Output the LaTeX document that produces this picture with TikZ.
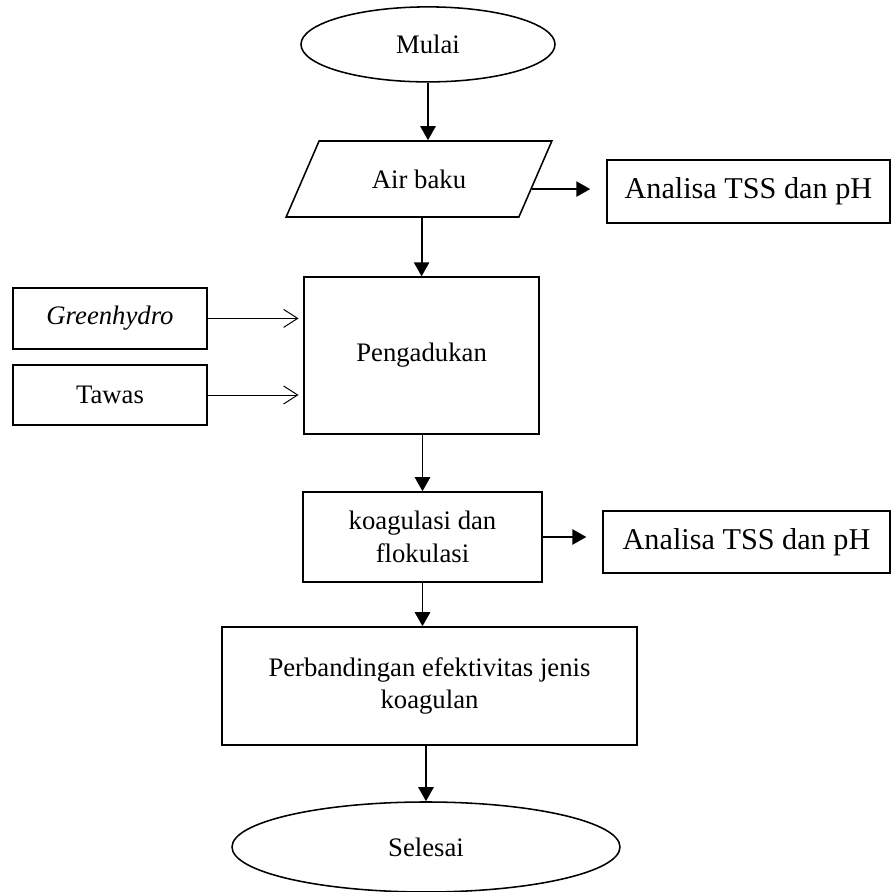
\documentclass[tikz,border=0pt]{standalone}
\usepackage{fontspec}
\setmainfont{Liberation Serif}
\usepackage{tikz}
\usetikzlibrary{arrows.meta,calc,shapes.geometric}
\tikzset{
  flowbox/.style={draw, line width=1.1pt, align=center, inner sep=2pt, fill=white,
    font=\fontsize{19}{23}\selectfont},
  flowterm/.style={flowbox, ellipse},
  flowdata/.style={flowbox, trapezium, trapezium left angle=56, trapezium right angle=124,
    trapezium stretches=true},
  flownote/.style={flowbox, line width=0.9pt, font=\fontsize{21.5}{25}\selectfont},
  flowarrow/.style={-{Triangle[length=3.5mm, width=3.8mm]}, line width=1.4pt},
  flowfeed/.style={-{Straight Barb[length=3.5mm, width=4.5mm]}, line width=0.7pt},
}

\begin{document}
\begin{tikzpicture}
  \useasboundingbox (0,0) rectangle (22.275,22.3);
  \node[flowterm, minimum width=6.35cm, minimum height=1.875cm] (mulai) at (10.7,21.19) {Mulai};
  \node[flowdata, minimum width=6.7cm, minimum height=1.9cm] (air) at (10.475,17.825) {Air baku};
  \node[flownote, minimum width=7.075cm, minimum height=1.575cm] (ana1) at (18.71,17.51) {Analisa TSS dan pH};
  \node[flowbox, minimum width=4.85cm, minimum height=1.525cm] (green) at (2.75,14.34) {\textit{Greenhydro}};
  \node[flowbox, minimum width=4.85cm, minimum height=1.5cm] (tawas) at (2.75,12.425) {Tawas};
  \node[flowbox, minimum width=5.875cm, minimum height=3.925cm] (peng) at (10.54,13.41) {Pengadukan};
  \node[flowbox, minimum width=5.975cm, minimum height=2.25cm] (koag) at (10.5625,8.875) {koagulasi dan\\flokulasi};
  \node[flownote, minimum width=7.175cm, minimum height=1.55cm] (ana2) at (18.6625,8.75) {Analisa TSS dan pH};
  \node[flowbox, minimum width=10.375cm, minimum height=2.95cm] (perb) at (10.7375,5.15) {Perbandingan efektivitas jenis\\koagulan};
  \node[flowterm, minimum width=9.7cm, minimum height=2.25cm] (sel) at (10.65,1.125) {Selesai};

  % alur utama
  \coordinate (airout) at ($(air.top right corner)!0.63!(air.bottom right corner)$);
  \draw[flowarrow] (mulai.south) -- (mulai.south |- air.north);
  \draw[flowarrow, shorten >=4mm] (airout) -- (airout -| ana1.west);
  \draw[flowarrow] (peng.north |- air.south) -- (peng.north);
  \draw[flowfeed, shorten >=1.2mm] (green.east) -- (green.east -| peng.west);
  \draw[flowfeed, shorten >=1.2mm] (tawas.east) -- (tawas.east -| peng.west);
  \draw[flowarrow] (koag.north |- peng.south) -- (koag.north);
  \draw[flowarrow, shorten >=4mm] (koag.east) -- (koag.east -| ana2.west);
  \draw[flowarrow] (koag.south) -- (koag.south |- perb.north);
  \draw[flowarrow] (sel.north |- perb.south) -- (sel.north);
\end{tikzpicture}
\end{document}
